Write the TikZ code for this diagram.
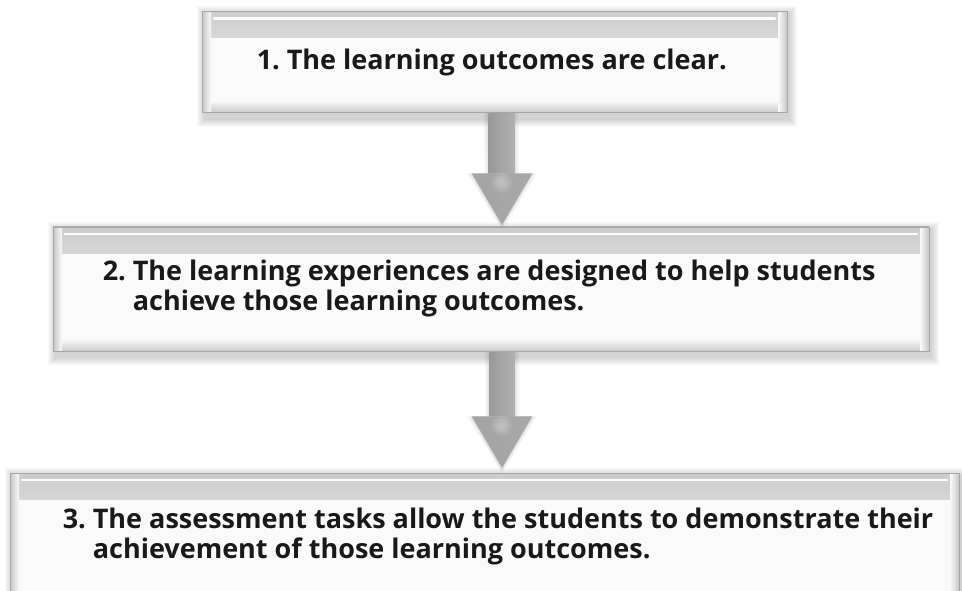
\documentclass[tikz,border=0pt]{standalone}
\usepackage{fontspec}
\setmainfont{Open Sans}
\usetikzlibrary{calc,backgrounds}
\colorlet{pfill}{white!96!gray}
\colorlet{ptext}{black!90}
\tikzset{
  bevelbox/.style={draw=gray!70, line width=0.9pt, fill=pfill, inner sep=0pt,
    path picture={
      \shade[top color=gray!40, bottom color=pfill]
        (path picture bounding box.north west) rectangle ($(path picture bounding box.north east)+(0,26)$);
      \shade[bottom color=gray!42, top color=pfill]
        (path picture bounding box.south west) rectangle ($(path picture bounding box.south east)+(0,-12)$);
      \shade[left color=gray!45, right color=pfill]
        (path picture bounding box.north west) rectangle ($(path picture bounding box.south west)+(9,0)$);
      \shade[right color=gray!45, left color=pfill]
        (path picture bounding box.north east) rectangle ($(path picture bounding box.south east)+(-9,0)$);
      \draw[gray!62, line width=1.8pt]
        (path picture bounding box.north west) -- (path picture bounding box.north east);
      \draw[white, line width=2.5pt, line cap=round, opacity=0.95]
        ($(path picture bounding box.north west)+(12,7)$) -- ($(path picture bounding box.north east)+(-12,7)$);
    }},
  boxtext/.style={inner sep=0pt, anchor=base west, text=ptext, font=\fontsize{27}{30}\selectfont\bfseries},
  shaftshade/.style={left color=gray!80, middle color=gray!35, right color=gray!62},
  headshade/.style={left color=gray!72, middle color=gray!50, right color=gray!68, draw=gray!62, line width=0.5pt}
}
\begin{document}
\begin{tikzpicture}[x=1pt,y=-1pt]
\useasboundingbox (0,0) rectangle (962,591);
% boxes
\node[bevelbox, minimum width=585pt, minimum height=101pt] (b1) at (494.5,62) {};
\node[bevelbox, minimum width=876pt, minimum height=124pt] (b2) at (491,289) {};
\node[bevelbox, minimum width=949pt, minimum height=134pt] (b3) at (484.5,540) {};
% texts
\node[boxtext] (t1) at ($(b1.north west)+(55,58)$) {1.\ The learning outcomes are clear.};
\node[boxtext] (t2) at ($(b2.north west)+(50,54)$)
  {\begin{tabular}[t]{@{}l@{\ }l@{}}2.&The learning experiences are designed to help students\\ &achieve those learning outcomes.\end{tabular}};
\node[boxtext] (t3) at ($(b3.north west)+(53,56)$)
  {\begin{tabular}[t]{@{}l@{\ }l@{}}3.&The assessment tasks allow the students to demonstrate their\\ &achievement of those learning outcomes.\end{tabular}};
% arrow anchor coordinates
\coordinate (a1s) at ($(b1.south)+(6.5,0)$);
\coordinate (a1t) at ($(b2.north)+(11,-2)$);
\coordinate (a2s) at ($(b2.south)+(11,0)$);
\coordinate (a2t) at ($(b3.north)+(17.5,-5)$);
% shadows
\begin{scope}[on background layer]
  \foreach \b in {b1,b2,b3}{
    \foreach \i in {1,...,8}{
      \fill[black, opacity=0.022] ($(\b.north west)+(3-\i,3-\i)$) rectangle ($(\b.south east)+(2+\i,6+\i)$);
    }
  }
  \foreach \s/\t in {a1s/a1t,a2s/a2t}{
    \foreach \i in {1,...,5}{
      \fill[black, opacity=0.025]
        ($(\s)+(-12.5-\i,0)$) -- ($(\s)+(12.5+\i,0)$) -- ($(\t)+(12.5+\i,-51)$) -- ($(\t)+(30+\i,-51)$)
        -- ($(\t)+(0,1+\i)$) -- ($(\t)+(-30-\i,-51)$) -- ($(\t)+(-12.5-\i,-51)$) -- cycle;
    }
  }
\end{scope}
% block arrows
\foreach \s/\t in {a1s/a1t,a2s/a2t}{
  \shade[shaftshade] ($(\s)+(-12.5,1)$) rectangle ($(\t)+(12.5,-50)$);
  \shade[headshade] ($(\t)+(-30,-51)$) -- ($(\t)+(30,-51)$) -- (\t) -- cycle;
  \foreach \r in {4,7,10}{
    \fill[white, opacity=0.1] ($(\t)+(0,-42)$) circle (\r pt);
  }
}
\end{tikzpicture}
\end{document}
